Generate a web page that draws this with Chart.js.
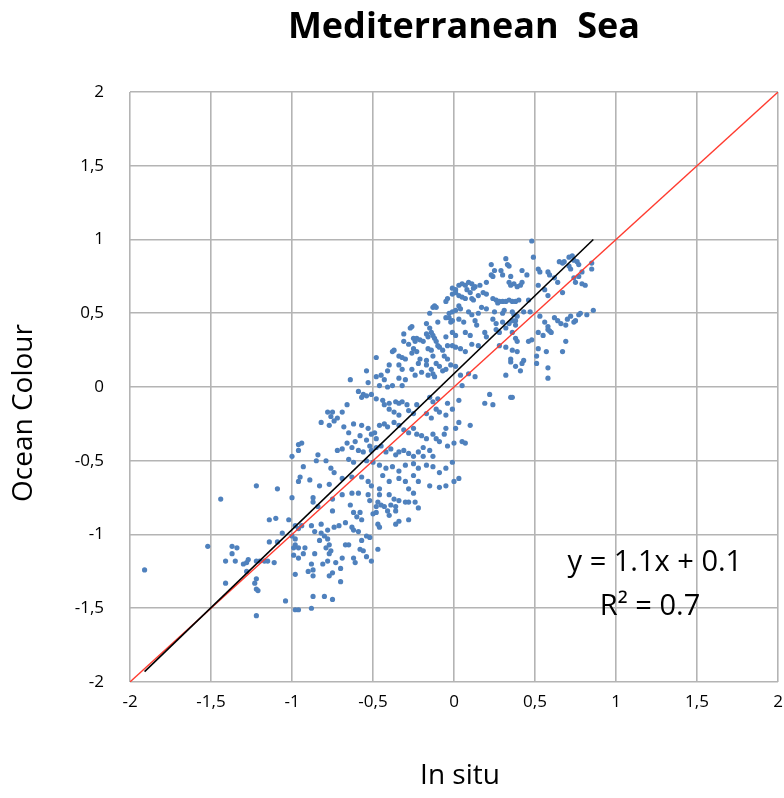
<!DOCTYPE html>
<html>
<head>
<meta charset="utf-8">
<script src="https://cdn.jsdelivr.net/npm/chart.js@4.4.1/dist/chart.umd.min.js"></script>
<style>
html,body{margin:0;padding:0;background:#ffffff;}
#wrap{width:784px;height:798px;position:relative;}
</style>
</head>
<body>
<div id="wrap"><canvas id="c" width="784" height="798"></canvas></div>
<script>
const chartTitle = "Mediterranean  Sea";
const xAxisTitle = "In situ";
const yAxisTitle = "Ocean Colour";
const tickValues = [-2, -1.5, -1, -0.5, 0, 0.5, 1, 1.5, 2];
const tickLabels = ["-2", "-1,5", "-1", "-0,5", "0", "0,5", "1", "1,5", "2"];
const equationText = "y = 1.1x + 0.1";
const r2Text = "R\u00B2 = 0.7";

// [in situ, ocean colour] pairs
const samples = [
[-0.01,0.67],[0.01,0.66],[-0.01,0.63],[0.01,0.64],[-0.05,0.58],[-0.04,0.60],[-0.13,0.54],[-0.11,0.54],[-0.12,0.55],[-0.15,0.50],
[-0.03,0.50],[-0.01,0.51],[0.01,0.52],[-0.05,0.47],[-0.03,0.47],[-0.10,0.44],[-0.02,0.44],[-0.01,0.45],[-0.17,0.43],[-0.26,0.41],
[-0.27,0.40],[-0.15,0.40],[-0.14,0.37],[-0.13,0.35],[-0.31,0.36],[-0.25,0.33],[-0.23,0.33],[-0.24,0.31],[-0.21,0.32],[-0.17,0.36],
[-0.16,0.34],[-0.19,0.31],[-0.12,0.33],[-0.11,0.31],[-0.10,0.28],[-0.05,0.34],[-0.01,0.37],[0.01,0.35],[-0.28,0.29],[-0.31,0.31],
[-0.37,0.25],[-0.38,0.24],[-0.34,0.21],[-0.32,0.20],[-0.30,0.19],[-0.25,0.26],[-0.23,0.24],[-0.26,0.23],[-0.16,0.26],[-0.14,0.25],
[-0.13,0.21],[-0.09,0.27],[-0.07,0.25],[-0.04,0.28],[-0.01,0.28],[0.01,0.27],[-0.21,0.19],[-0.17,0.18],[-0.06,0.21],[-0.04,0.19],
[-0.48,0.20],
[0.48,0.99],[0.49,0.88],[0.32,0.87],[0.23,0.83],[0.33,0.83],[0.34,0.82],[0.29,0.79],[0.25,0.79],[0.23,0.76],[0.24,0.75],
[0.20,0.71],[0.30,0.76],[0.35,0.75],[0.42,0.79],[0.45,0.76],[0.52,0.80],[0.53,0.78],[0.58,0.78],[0.59,0.76],[0.65,0.85],
[0.67,0.84],[0.68,0.85],[0.71,0.88],[0.73,0.89],[0.74,0.86],[0.76,0.85],[0.77,0.83],[0.71,0.82],[0.72,0.80],[0.85,0.84],
[0.85,0.80],[0.79,0.78],[0.74,0.74],[0.77,0.75],[0.75,0.71],[0.79,0.70],[0.81,0.69],[0.62,0.74],[0.64,0.71],[0.52,0.69],
[0.56,0.66],[0.58,0.62],[0.67,0.64],[0.34,0.71],[0.35,0.69],[0.37,0.70],[0.39,0.68],[0.41,0.69],[0.42,0.71],[0.03,0.69],
[0.05,0.70],[0.07,0.69],[0.09,0.71],[0.11,0.70],[0.13,0.68],[0.12,0.67],[0.08,0.66],[0.10,0.64],[0.16,0.69],[0.18,0.64],
[0.20,0.63],[0.15,0.62],[0.03,0.62],[0.05,0.61],[0.07,0.60],[0.11,0.60],[0.12,0.59],[0.24,0.60],[0.26,0.59],[0.28,0.58],
[0.30,0.58],[0.32,0.58],[0.34,0.59],[0.36,0.58],[0.38,0.58],[0.40,0.59],[0.27,0.57],[0.46,0.59],[0.03,0.55],[0.04,0.53],
[0.09,0.51],[0.11,0.49],[0.15,0.50],[0.17,0.54],[0.20,0.53],[0.25,0.51],[0.30,0.50],[0.31,0.52],[0.36,0.51],[0.37,0.49],
[0.39,0.48],[0.43,0.51],[0.47,0.51],[0.03,0.46],[0.06,0.44],[0.13,0.45],[0.14,0.42],[0.24,0.46],[0.26,0.43],[0.30,0.44],
[0.32,0.40],[0.34,0.43],[0.36,0.45],[0.38,0.45],[0.38,0.42],[0.53,0.48],[0.56,0.44],[0.58,0.41],[0.59,0.38],[0.62,0.47],
[0.64,0.45],[0.66,0.43],[0.69,0.42],[0.70,0.46],[0.72,0.48],[0.74,0.44],[0.77,0.49],[0.78,0.50],[0.82,0.49],[0.86,0.52],
[0.75,0.45],[0.07,0.37],[0.10,0.35],[0.19,0.37],[0.20,0.34],[0.26,0.39],[0.28,0.37],[0.36,0.37],[0.38,0.33],[0.39,0.31],
[0.52,0.37],[0.55,0.35],[0.58,0.39],[0.60,0.37],[0.46,0.31],[0.48,0.32],[0.52,0.26],[0.57,0.24],[0.69,0.31],[0.67,0.24],
[0.28,0.28],[0.32,0.27],[0.36,0.25],[0.39,0.24],[0.11,0.29],[0.15,0.28],[0.04,0.26],[0.07,0.24],[0.35,0.19],[0.43,0.18],
[0.51,0.21],
[-0.40,0.15],[-0.34,0.15],[-0.32,0.12],[-0.41,0.11],[-0.22,0.16],[-0.17,0.15],[-0.14,0.12],[-0.11,0.16],[-0.09,0.14],[-0.07,0.11],
[-0.20,0.10],[-0.16,0.08],[-0.13,0.09],[-0.12,0.07],[-0.05,0.12],[-0.02,0.15],[0.01,0.14],[-0.26,0.12],[-0.24,0.08],[-0.54,0.11],
[-0.64,0.05],[-0.53,0.03],[-0.48,0.07],[-0.45,0.08],[-0.43,0.05],[-0.46,0.01],[-0.41,0.00],[-0.38,0.01],[-0.34,0.06],[-0.30,0.05],
[-0.32,0.01],[-0.59,-0.03],[-0.56,-0.05],[-0.57,-0.07],[-0.54,-0.06],[-0.51,-0.05],[-0.48,-0.08],[-0.44,-0.09],[-0.43,-0.12],[-0.40,-0.11],
[-0.36,-0.10],[-0.34,-0.11],[-0.32,-0.10],[-0.29,-0.12],[-0.40,-0.15],[-0.37,-0.17],[-0.34,-0.19],[-0.28,-0.16],[-0.25,-0.18],[-0.23,-0.12],
[-0.15,-0.07],[-0.13,-0.10],[-0.10,-0.08],[-0.04,-0.11],[-0.01,-0.15],[-0.11,-0.15],[-0.09,-0.17],[-0.17,-0.18],[-0.14,-0.21],[-0.05,-0.19],
[-0.78,-0.17],[-0.75,-0.17],[-0.76,-0.20],[-0.74,-0.23],[-0.69,-0.17],[-0.66,-0.12],[-0.72,-0.21],[-0.82,-0.24],[-0.77,-0.26],[-0.68,-0.27],
[-0.65,-0.31],[-0.62,-0.25],[-0.57,-0.26],[-0.53,-0.28],[-0.49,-0.31],[-0.51,-0.32],[-0.48,-0.35],[-0.46,-0.26],[-0.43,-0.25],[-0.41,-0.27],
[-0.37,-0.24],[-0.34,-0.26],[-0.31,-0.29],[-0.28,-0.31],[-0.25,-0.28],[-0.23,-0.32],[-0.20,-0.33],[-0.17,-0.35],[-0.13,-0.32],[-0.11,-0.35],
[-0.09,-0.37],[-0.06,-0.32],[-0.04,-0.40],[0.00,-0.38],[0.01,-0.28],[-0.05,-0.28],[-0.58,-0.33],[-0.54,-0.36],[-0.52,-0.40],[-0.61,-0.37],
[-0.63,-0.41],[-0.59,-0.43],[-0.56,-0.44],[-0.51,-0.43],[-0.48,-0.41],[-0.45,-0.40],[-0.42,-0.44],[-0.39,-0.42],[-0.36,-0.46],[-0.34,-0.44],
[-0.31,-0.43],[-0.28,-0.45],[-0.25,-0.47],[-0.22,-0.44],[-0.19,-0.41],[-0.15,-0.43],[-0.13,-0.47],[-0.19,-0.47],[-0.69,-0.42],[-0.72,-0.43],
[-0.66,-0.38],[-0.94,-0.38],[-0.96,-0.43],[-0.84,-0.46],[-0.85,-0.50],[-0.79,-0.50],[-0.65,-0.49],[-0.62,-0.51],[-0.54,-0.50],[-0.50,-0.51],
[-0.46,-0.53],[-0.42,-0.55],[-0.38,-0.54],[-0.34,-0.57],[-0.30,-0.53],[-0.25,-0.52],[-0.22,-0.55],[-0.17,-0.53],[-0.13,-0.54],[-0.09,-0.58],
[-0.05,-0.55],[-0.01,-0.51],[-0.76,-0.55],[-0.74,-0.58],[-0.93,-0.54],[-0.95,-0.61],[-0.89,-0.63],[-0.83,-0.67],[-0.77,-0.66],[-0.69,-0.62],
[-0.63,-0.61],[-0.57,-0.61],[-0.53,-0.64],[-0.51,-0.67],[-0.44,-0.60],[-0.40,-0.64],[-0.34,-0.62],[-0.30,-0.64],[-0.25,-0.60],[-0.22,-0.64],
[-0.15,-0.67],[-0.09,-0.68],[-0.05,-0.67],[0.00,-0.64],[-0.46,-0.69],[-0.28,-0.69],
[-0.87,-0.75],[-0.87,-0.78],[-0.84,-0.81],[-0.75,-0.84],[-0.75,-0.76],[-0.69,-0.73],[-0.63,-0.72],[-0.59,-0.72],[-0.53,-0.73],[-0.52,-0.77],
[-0.46,-0.73],[-0.40,-0.73],[-0.37,-0.76],[-0.34,-0.77],[-0.30,-0.78],[-0.28,-0.78],[-0.24,-0.78],[-0.22,-0.82],[-0.25,-0.72],[-0.47,-0.78],
[-0.48,-0.81],[-0.45,-0.80],[-0.43,-0.81],[-0.39,-0.80],[-0.36,-0.81],[-0.41,-0.84],[-0.48,-0.85],[-0.50,-0.86],[-0.40,-0.87],[-0.36,-0.84],
[-0.34,-0.91],[-0.36,-0.93],[-0.28,-0.90],[-0.64,-0.80],[-0.62,-0.85],[-0.60,-0.88],[-0.58,-0.85],[-0.57,-0.90],[-0.67,-0.92],[-0.71,-0.94],
[-0.74,-0.95],[-0.78,-0.97],[-0.82,-0.93],[-0.88,-0.94],[-0.94,-0.94],[-0.86,-0.98],[-0.96,-0.96],[-0.47,-0.93],[-0.46,-0.95],[-0.63,-0.95],
[-0.62,-0.97],[-0.59,-0.98],[-0.54,-1.01],[-0.52,-1.02],[-0.82,-0.99],[-0.80,-1.01],[-0.78,-1.03],[-0.83,-1.04],[-0.77,-1.07],[-0.79,-1.09],
[-0.76,-1.11],[-0.77,-1.13],[-0.67,-1.07],[-0.65,-1.07],[-0.57,-1.04],[-0.58,-1.10],[-0.56,-1.11],[-0.54,-1.15],[-0.51,-1.18],[-0.47,-1.10],
[-0.96,-1.09],[-0.92,-1.09],[-0.93,-1.13],[-0.96,-1.16],[-0.86,-1.13],[-0.88,-1.20],[-0.81,-1.20],[-0.78,-1.18],[-0.73,-1.19],[-0.69,-1.16],
[-0.62,-1.16],[-0.61,-1.19],[-0.70,-1.23],[-0.75,-1.26],[-0.77,-1.28],[-0.87,-1.24],[-0.87,-1.28],[-0.90,-1.25],[-0.70,-1.32],[-0.87,-1.42],
[-0.80,-1.42],[-0.75,-1.44],[-0.88,-1.50],[-0.96,-1.51],
[-1.44,-0.76],[-1.00,-0.75],[-1.14,-0.90],[-1.10,-0.89],[-1.02,-0.90],[-1.06,-0.99],[-0.98,-0.94],[-1.52,-1.08],[-1.37,-1.08],[-1.34,-1.09],
[-1.37,-1.13],[-1.41,-1.18],[-1.35,-1.18],[-1.30,-1.20],[-1.28,-1.19],[-1.27,-1.17],[-1.22,-1.18],[-1.20,-1.18],[-1.17,-1.18],[-1.15,-1.18],
[-1.11,-1.19],[-1.14,-1.05],[-1.09,-1.05],[-0.99,-1.14],[-0.98,-1.03],[-0.98,-1.07],[-0.99,-1.09],[-1.28,-1.25],[-1.41,-1.33],[-1.23,-1.33],
[-1.22,-1.30],[-1.22,-1.37],[-1.21,-1.38],[-0.98,-1.27],[-1.04,-1.45],[-1.22,-1.55],[-0.98,-1.51],[-1.91,-1.24],[-1.00,-1.01],
[-0.96,-0.39],[-1.00,-0.47],[-1.22,-0.67],[-1.09,-0.69],[-0.96,-0.64],
[0.35,0.17],[0.38,0.14],[0.42,0.16],[0.41,0.11],[0.51,0.16],[0.58,0.13],[0.58,0.06],[0.32,0.08],[0.09,0.09],[0.13,0.07],
[0.04,0.08],[0.05,0.01],[0.03,-0.09],[0.22,-0.05],[0.19,-0.11],[0.24,-0.12],[0.35,-0.07],[0.36,-0.07],[0.10,-0.26],[0.05,-0.37],
[0.07,-0.38],[0.03,-0.24],[0.03,-0.62]
];
const inSitu = samples.map(p => p[0]);
const oceanColour = samples.map(p => p[1]);

// fitted trend line (end points) and 1:1 line
const trendX = [-1.91, 0.86];
const trendY = [-1.93, 1.00];
const identityX = [-2, 2];
const identityY = [-2, 2];

const FONT = "'Open Sans', 'DejaVu Sans', sans-serif";

const textPlugin = {
  id: 'texts',
  afterDraw(chart) {
    const ctx = chart.ctx;
    const xs = chart.scales.x, ys = chart.scales.y;
    ctx.save();
    ctx.fillStyle = '#000';
    ctx.textAlign = 'center';
    ctx.textBaseline = 'middle';
    ctx.font = "bold 36px " + FONT;
    ctx.fillText(chartTitle, 464, 28);
    ctx.font = "28px " + FONT;
    ctx.fillText(xAxisTitle, 460, 776);
    ctx.save();
    ctx.translate(24, 413);
    ctx.rotate(-Math.PI / 2);
    ctx.fillText(yAxisTitle, 0, 0);
    ctx.restore();
    ctx.font = "29px " + FONT;
    ctx.fillText(equationText, xs.getPixelForValue(1.24), ys.getPixelForValue(-1.19));
    ctx.fillText(r2Text, xs.getPixelForValue(1.21), ys.getPixelForValue(-1.49));
    ctx.restore();
  }
};

const gridStyle = { color: '#b4b4b4', lineWidth: 1.6, drawTicks: false };

new Chart(document.getElementById('c'), {
  type: 'scatter',
  data: {
    datasets: [
      {
        label: 'Trend',
        data: trendX.map((x, i) => ({ x, y: trendY[i] })),
        showLine: true, borderColor: '#000000', borderWidth: 1.6,
        pointRadius: 0, fill: false, order: 1
      },
      {
        label: '1:1',
        data: identityX.map((x, i) => ({ x, y: identityY[i] })),
        showLine: true, borderColor: '#ff3b2f', borderWidth: 1.3,
        pointRadius: 0, fill: false, order: 2
      },
      {
        label: 'Samples',
        data: inSitu.map((x, i) => ({ x, y: oceanColour[i] })),
        pointRadius: 2.6, pointHoverRadius: 2.6,
        backgroundColor: '#4f81bd', borderWidth: 0, order: 3
      }
    ]
  },
  options: {
    responsive: false,
    animation: false,
    events: [],
    layout: { padding: { top: 92, right: 6, bottom: 0, left: 0 } },
    plugins: { legend: { display: false }, tooltip: { enabled: false }, title: { display: false } },
    scales: {
      x: {
        type: 'linear', min: -2, max: 2,
        afterBuildTicks: s => { s.ticks = tickValues.map(v => ({ value: v })); },
        afterFit: s => { s.height = 116; s.paddingLeft = 0; s.paddingRight = 0; },
        grid: gridStyle,
        border: { display: false },
        ticks: {
          padding: 10, color: '#000', maxRotation: 0,
          font: { family: FONT, size: 17 },
          callback: v => tickLabels[tickValues.indexOf(v)]
        }
      },
      y: {
        type: 'linear', min: -2, max: 2,
        afterBuildTicks: s => { s.ticks = tickValues.map(v => ({ value: v })); },
        afterFit: s => { s.width = 130; s.paddingTop = 0; s.paddingBottom = 0; },
        grid: gridStyle,
        border: { display: false },
        ticks: {
          padding: 26, color: '#000',
          font: { family: FONT, size: 17 },
          callback: v => tickLabels[tickValues.indexOf(v)]
        }
      }
    }
  },
  plugins: [textPlugin]
});
</script>
</body>
</html>
